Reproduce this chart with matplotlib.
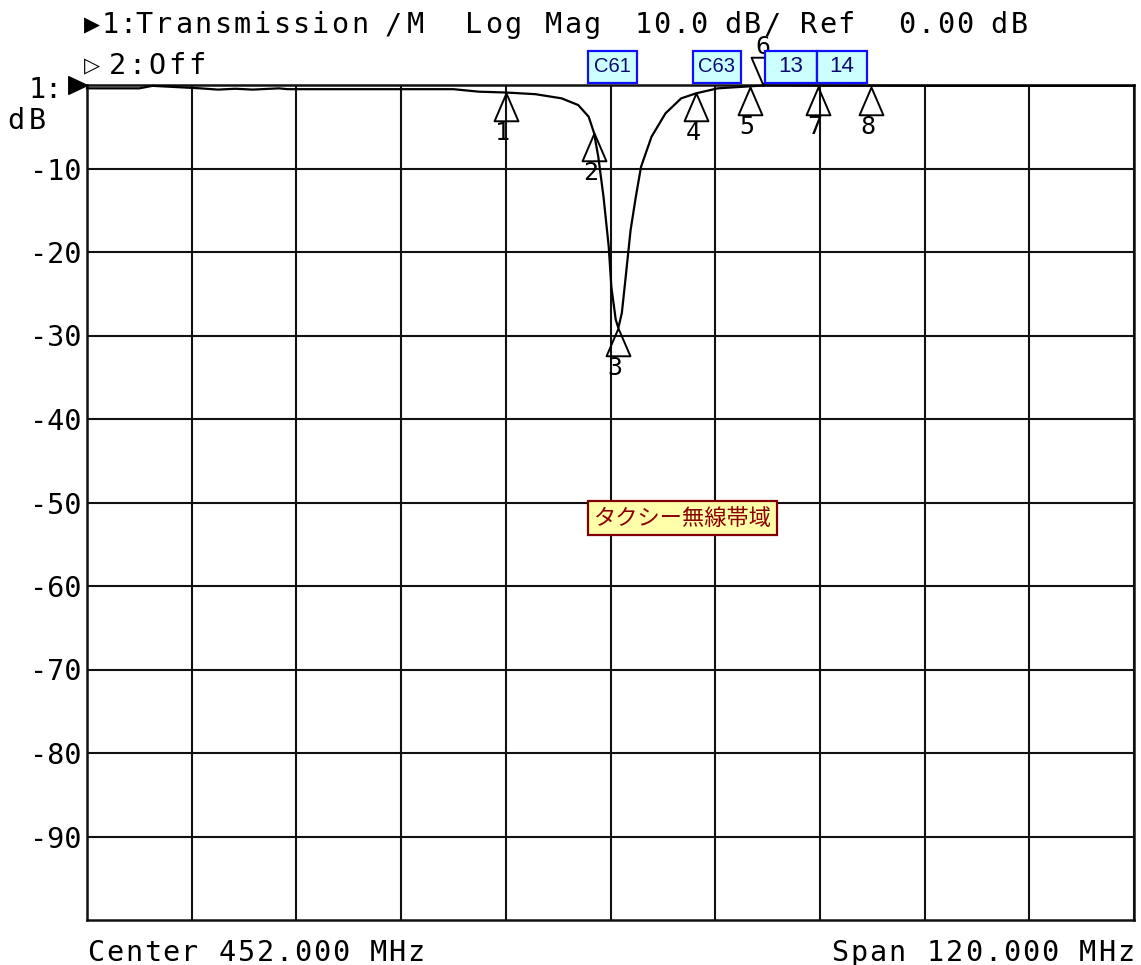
"""
Network analyzer screen: transmission of a notch filter (taxi radio band).
"""

import matplotlib
matplotlib.use("Agg")
import matplotlib.pyplot as plt
from matplotlib.path import Path
from matplotlib.patches import Rectangle
import matplotlib.transforms as mtransforms

W, H = 1141, 965

# --- data -------------------------------------------------------------------
center_mhz = 452.0
span_mhz = 120.0

freq_mhz = [392.0, 398.0, 399.5, 405.0, 407.0, 409.0, 411.0, 414.0, 415.0, 434.0,
            436.9, 440.0, 443.4, 446.4, 448.3, 449.5, 450.1, 450.6, 451.2, 451.8,
            452.1, 452.6, 452.9, 453.3, 453.7, 454.3, 454.9, 455.5, 456.7, 458.3,
            460.1, 461.8, 464.3, 468.1, 469.7, 490.0, 512.0]
trace_db = [-0.4, -0.4, -0.1, -0.4, -0.55, -0.45, -0.55, -0.4, -0.5, -0.5,
            -0.8, -0.9, -1.1, -1.6, -2.4, -3.8, -5.7, -8.6, -13.4, -19.4,
            -24.2, -28.1, -29.1, -27.3, -23.4, -17.4, -13.4, -9.8, -6.2, -3.4,
            -1.6, -1.0, -0.4, -0.15, -0.05, -0.1, -0.1]

marker_ids = ["1", "2", "3", "4", "5", "6", "7", "8"]
marker_mhz = [440.0, 450.1, 452.9, 461.8, 468.0, 469.5, 475.8, 481.9]
marker_db = [-0.9, -5.7, -29.1, -1.0, -0.25, 0.0, -0.25, -0.25]
marker_up = [True, True, True, True, True, False, True, True]

part_labels = ["C61", "C63", "13", "14"]
part_mhz = [452.2, 464.2, 472.7, 478.5]
part_width_mhz = [5.6, 5.5, 5.9, 5.7]
part_fontsize = [14.5, 14.5, 16, 16]

band_label = "タクシー無線帯域"
band_mhz = 460.3
band_db = -51.9

y_ticks = [-10, -20, -30, -40, -50, -60, -70, -80, -90]

# --- figure -----------------------------------------------------------------
HP_FONT = ["DejaVu Sans Mono", "DejaVu Sans"]
HP_SIZE = 20.5

fig = plt.figure(figsize=(W / 100, H / 100), dpi=100)
fig.patch.set_facecolor("white")
left, right, top, bottom = 87, 1134, 85, 920
ax = fig.add_axes([left / W, 1 - bottom / H, (right - left) / W, (bottom - top) / H])

f0 = center_mhz - span_mhz / 2
f1 = center_mhz + span_mhz / 2
ax.set_xlim(f0, f1)
ax.set_ylim(-100, 0)
ax.set_xticks([f0 + i * span_mhz / 10 for i in range(11)])
ax.set_xticklabels([])
ax.set_yticks(y_ticks)
ax.set_yticklabels([str(v) for v in y_ticks], family=HP_FONT, fontsize=HP_SIZE)
ax.tick_params(length=0, pad=4)
for t in ax.get_yticklabels():
    t.set_verticalalignment("center_baseline")
ax.grid(True, color="#111111", linewidth=1.5)
for s in ax.spines.values():
    s.set_color("#111111")
    s.set_linewidth(1.8)

ax.plot(freq_mhz, trace_db, color="black", linewidth=1.6, clip_on=False, zorder=3)

# markers: hollow triangles with the apex on the trace
tri_up = Path([(0, 0), (-0.43, -1), (0.43, -1), (0, 0)],
              [Path.MOVETO, Path.LINETO, Path.LINETO, Path.CLOSEPOLY])
tri_down = Path([(0, 0), (-0.43, 1), (0.43, 1), (0, 0)],
                [Path.MOVETO, Path.LINETO, Path.LINETO, Path.CLOSEPOLY])
for mid, mf, md, up in zip(marker_ids, marker_mhz, marker_db, marker_up):
    ax.plot(mf, md, marker=tri_up if up else tri_down, markersize=40,
            markerfacecolor="none", markeredgecolor="black", markeredgewidth=1.4,
            clip_on=False, zorder=4)
    off = (-2.2, -28.8) if up else (0, 27.5)
    ax.annotate(mid, (mf, md), xytext=off, textcoords="offset points",
                ha="center", va="center", family=HP_FONT, fontsize=18,
                annotation_clip=False, zorder=4)

# reference level pointer on the left edge
ref_ptr = Path([(0, 0), (-1, 0.47), (-1, -0.47), (0, 0)],
               [Path.MOVETO, Path.LINETO, Path.LINETO, Path.CLOSEPOLY])
ax.plot(f0, 0, marker=ref_ptr, markersize=27, color="black", clip_on=False, zorder=5)

# component labels above the grid
blend = mtransforms.blended_transform_factory(ax.transData, ax.transAxes)
y_lo = 1 + 2 / (bottom - top)
y_hi = 1 + 34 / (bottom - top)
for lab, pf, pw, fs in zip(part_labels, part_mhz, part_width_mhz, part_fontsize):
    ax.add_patch(Rectangle((pf - pw / 2, y_lo), pw, y_hi - y_lo, transform=blend,
                           facecolor="#ccffff", edgecolor="#1010ff", linewidth=1.6,
                           clip_on=False, zorder=6))
    ax.text(pf, (y_lo + y_hi) / 2, lab, transform=blend, ha="center", va="center",
            family=["Liberation Sans", "DejaVu Sans"], fontsize=fs, color="#0a0a70",
            zorder=7, clip_on=False)

ax.text(band_mhz, band_db, band_label, ha="center", va="center",
        family=["Noto Sans CJK JP", "DejaVu Sans"], fontsize=16, color="#8b0000",
        bbox=dict(boxstyle="square,pad=0.25", facecolor="#ffffaa",
                  edgecolor="#800000", linewidth=1.6), zorder=6)


def hp_text(s, x0, baseline, pitch, size=HP_SIZE, family=HP_FONT):
    """Draw a string with fixed character pitch, positions in screen pixels."""
    for i, ch in enumerate(s):
        if ch == " ":
            continue
        fig.text((x0 + i * pitch) / W, 1 - baseline / H, ch, ha="center",
                 va="baseline", family=family, fontsize=size, color="black")


# header lines
hp_text("▶", 92, 31, 0, size=15, family=["DejaVu Sans"])
hp_text("1:", 110, 33, 17.5)
hp_text("Transmission", 144, 33, 19.6)
hp_text("/M", 393, 33, 22)
hp_text("Log", 474, 33, 19.5)
hp_text("Mag", 553, 33, 19.5)
hp_text("10.0", 643, 33, 18.7)
hp_text("dB/", 733, 33, 19.5)
hp_text("Ref", 809, 33, 18.5)
hp_text("0.00", 907, 33, 19.3)
hp_text("dB", 999, 33, 20)
hp_text("▷", 92, 72, 0, size=15, family=["DejaVu Sans"])
hp_text("2:Off", 117, 74, 20)

# left scale legend
hp_text("1:", 37, 98, 15.5)
hp_text("dB", 16, 129, 21)

# footer
hp_text("Center 452.000 MHz", 96, 961, 18.8)
hp_text("Span 120.000 MHz", 840, 961, 19.05)

fig.savefig("out.png", dpi=100)
